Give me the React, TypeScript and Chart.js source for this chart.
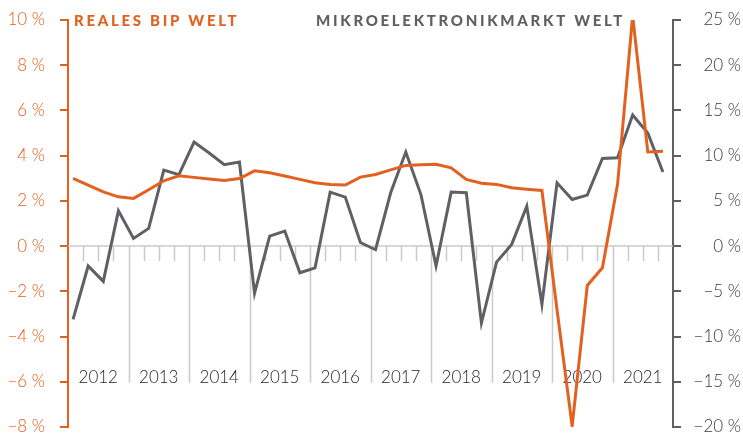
import React, { useEffect, useRef } from 'react';
import { Chart, registerables } from 'chart.js';

Chart.register(...registerables);

const years = ['2012', '2013', '2014', '2015', '2016', '2017', '2018', '2019', '2020', '2021'];
const quarters = ['Q1', 'Q2', 'Q3', 'Q4'];
const quarterLabels = years.flatMap((y) => quarters.map((q) => `${q} ${y}`));

// Reales BIP Welt, % (left axis)
const gdpWorld = [
  3.0, 2.7, 2.4, 2.18,
  2.11, 2.49, 2.89, 3.11,
  3.04, 2.97, 2.9, 2.99,
  3.33, 3.24, 3.1, 2.95,
  2.8, 2.72, 2.7, 3.05,
  3.17, 3.37, 3.57, 3.6,
  3.62, 3.46, 2.95, 2.78,
  2.73, 2.58, 2.52, 2.46,
  -2.82, -7.96, -1.74, -0.96,
  2.73, 10.18, 4.16, 4.19,
];

// Mikroelektronikmarkt Welt, % (right axis)
const microWorld = [
  -8.1, -2.2, -3.9, 3.9,
  0.85, 1.96, 8.4, 7.9,
  11.5, 10.3, 9.0, 9.3,
  -5.2, 1.1, 1.66, -2.95,
  -2.4, 5.97, 5.42, 0.4,
  -0.4, 5.9, 10.4, 5.7,
  -2.2, 5.97, 5.9, -8.5,
  -1.77, 0.19, 4.42, -6.45,
  7.0, 5.16, 5.64, 9.7,
  9.77, 14.5, 12.5, 8.2,
];

const leftTicks = [-8, -6, -4, -2, 0, 2, 4, 6, 8, 10];
const rightTicks = [-20, -15, -10, -5, 0, 5, 10, 15, 20, 25];

const titleGdp = 'REALES BIP WELT';
const titleMicro = 'MIKROELEKTRONIKMARKT WELT';

const ORANGE = '#E2611F';
const GREY = '#5F6065';
const GRID = '#CACACA';
const FONT = 'Lato, "Open Sans", sans-serif';

const fmt = (v: number) => (v < 0 ? '\u2212' + Math.abs(v) : String(v)) + ' %';

const decorPlugin = {
  id: 'decor',
  beforeDatasetsDraw(chart: any) {
    const { ctx, chartArea, scales } = chart;
    const x = scales.x;
    const yl = scales.yLeft;
    const y0 = yl.getPixelForValue(0);
    const yEnd = yl.getPixelForValue(-6) + 1;
    ctx.save();
    ctx.strokeStyle = GRID;
    ctx.lineWidth = 1.5;
    // zero line
    ctx.beginPath();
    ctx.moveTo(chartArea.left, y0);
    ctx.lineTo(chartArea.right, y0);
    ctx.stroke();
    // quarter ticks and year lines
    for (let i = 1; i < quarterLabels.length; i++) {
      const px = Math.round(x.getPixelForValue(i - 1 / 3)) + 0.5;
      ctx.beginPath();
      ctx.moveTo(px, y0);
      ctx.lineTo(px, i % 4 === 0 ? yEnd : y0 + 15);
      ctx.stroke();
    }
    // year labels
    ctx.fillStyle = '#262626';
    ctx.font = `300 17px ${FONT}`;
    ctx.textAlign = 'center';
    ctx.textBaseline = 'alphabetic';
    years.forEach((yr, k) => {
      const cx = x.getPixelForValue(4 * k + 1.5 + 1 / 6);
      ctx.fillText(yr, cx, yEnd);
    });
    // series titles
    const ty = yl.getPixelForValue(10) + 6;
    ctx.font = `900 15px ${FONT}`;
    (ctx as any).letterSpacing = '2.7px';
    ctx.textAlign = 'left';
    ctx.fillStyle = ORANGE;
    ctx.fillText(titleGdp, chartArea.left + 6, ty);
    ctx.fillStyle = GREY;
    ctx.textAlign = 'right';
    ctx.fillText(titleMicro, chartArea.right - 48, ty);
    (ctx as any).letterSpacing = '0px';
    ctx.restore();
  },
};

export default function App() {
  const ref = useRef<HTMLCanvasElement | null>(null);
  useEffect(() => {
    if (!ref.current) return;
    const chart = new Chart(ref.current, {
      type: 'line',
      data: {
        labels: quarterLabels,
        datasets: [
          {
            label: 'Reales BIP Welt',
            data: gdpWorld.map((v, i) => ({ x: i, y: v })),
            yAxisID: 'yLeft',
            borderColor: ORANGE,
            borderWidth: 3,
            pointRadius: 0,
            tension: 0,
            borderJoinStyle: 'miter',
            order: 1,
          },
          {
            label: 'Mikroelektronikmarkt Welt',
            data: microWorld.map((v, i) => ({ x: i, y: v })),
            yAxisID: 'yRight',
            borderColor: GREY,
            borderWidth: 3,
            pointRadius: 0,
            tension: 0,
            borderJoinStyle: 'miter',
            order: 2,
          },
        ],
      },
      options: {
        animation: false,
        responsive: false,
        maintainAspectRatio: false,
        layout: { padding: { top: 20, bottom: 6, left: 0, right: 2 } },
        plugins: { legend: { display: false }, tooltip: { enabled: false }, title: { display: false } },
        scales: {
          x: {
            type: 'linear',
            display: false,
            min: -1 / 3,
            max: quarterLabels.length - 1 / 3,
          },
          yLeft: {
            position: 'left',
            min: leftTicks[0],
            max: leftTicks[leftTicks.length - 1],
            afterBuildTicks: (s: any) => { s.ticks = leftTicks.map((v) => ({ value: v })); },
            afterFit: (s: any) => { s.width = 68; s.paddingTop = 0; s.paddingBottom = 0; },
            border: { display: true, color: ORANGE, width: 2 },
            grid: { display: true, drawOnChartArea: false, drawTicks: true, tickLength: 8, color: ORANGE, lineWidth: 2 },
            ticks: {
              padding: 15,
              color: ORANGE,
              font: { family: FONT, size: 17, weight: '300' },
              callback: (v: any) => fmt(Number(v)),
            },
          },
          yRight: {
            position: 'right',
            min: rightTicks[0],
            max: rightTicks[rightTicks.length - 1],
            afterBuildTicks: (s: any) => { s.ticks = rightTicks.map((v) => ({ value: v })); },
            afterFit: (s: any) => { s.width = 68; s.paddingTop = 0; s.paddingBottom = 0; },
            border: { display: true, color: GREY, width: 2 },
            grid: { display: true, drawOnChartArea: false, drawTicks: true, tickLength: 8, color: GREY, lineWidth: 2 },
            ticks: {
              padding: 8,
              crossAlign: 'far',
              color: '#3A3A3A',
              font: { family: FONT, size: 17, weight: '300' },
              callback: (v: any) => fmt(Number(v)),
            },
          },
        },
      },
      plugins: [decorPlugin],
    } as any);
    return () => chart.destroy();
  }, []);
  return (
    <div style={{ position: 'absolute', left: 0, top: 0, width: 743, height: 433 }}>
      <canvas ref={ref} width={743} height={433} style={{ width: 743, height: 433, display: 'block' }} />
    </div>
  );
}
